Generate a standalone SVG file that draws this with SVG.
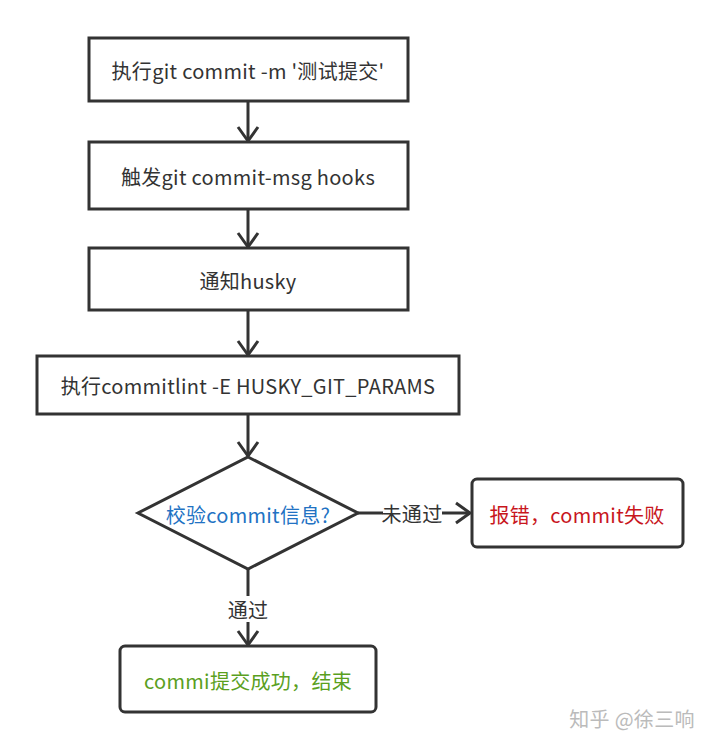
<svg xmlns="http://www.w3.org/2000/svg" width="720" height="749" viewBox="0 0 720 749">
<defs>
<style>
.box{fill:#fff;stroke:#333;stroke-width:3}
.t{font-family:"Noto Sans CJK SC","Noto Sans",sans-serif;font-size:20px;letter-spacing:0.3px;fill:#333;text-anchor:middle;dominant-baseline:central}
.ln{stroke:#333;stroke-width:3;fill:none}
</style>
<marker id="ah" viewBox="0 0 24 24" refX="20" refY="12" markerWidth="24" markerHeight="24" markerUnits="userSpaceOnUse" orient="auto">
<path d="M6,2 L20,12 L6,22" fill="none" stroke="#333" stroke-width="3"/>
</marker>
</defs>
<rect width="720" height="749" fill="#fff"/>
<g id="connectors">
<line class="ln" x1="248" y1="101" x2="248" y2="141" marker-end="url(#ah)"/>
<line class="ln" x1="248" y1="209" x2="248" y2="247" marker-end="url(#ah)"/>
<line class="ln" x1="248" y1="310" x2="248" y2="355" marker-end="url(#ah)"/>
<line class="ln" x1="248" y1="414" x2="248" y2="456" marker-end="url(#ah)"/>
<line class="ln" x1="358" y1="513" x2="383" y2="513"/>
<line class="ln" x1="442" y1="513" x2="470" y2="513" marker-end="url(#ah)"/>
<text class="t" x="412" y="513">未通过</text>
<line class="ln" x1="248" y1="569" x2="248" y2="596"/>
<line class="ln" x1="248" y1="622" x2="248" y2="645" marker-end="url(#ah)"/>
<text class="t" x="248" y="609">通过</text>
</g>
<g id="n1"><rect class="box" x="89" y="38" width="319" height="63"/><text class="t" x="248" y="70">执行git commit -m '测试提交'</text></g>
<g id="n2"><rect class="box" x="89" y="142" width="319" height="67"/><text class="t" x="248" y="176">触发git commit-msg hooks</text></g>
<g id="n3"><rect class="box" x="89" y="248" width="319" height="62"/><text class="t" x="248" y="280">通知husky</text></g>
<g id="n4"><rect class="box" x="37" y="356" width="422" height="58"/><text class="t" x="248" y="385">执行commitlint -E HUSKY_GIT_PARAMS</text></g>
<g id="n5"><polygon class="box" points="248,457 358,513 248,569 138,513"/><text class="t" x="248" y="514" style="fill:#2272c3">校验commit信息?</text></g>
<g id="n6"><rect class="box" x="472" y="479" width="211" height="68" rx="5"/><text class="t" x="577" y="514" style="fill:#c8161d">报错，commit失败</text></g>
<g id="n7"><rect class="box" x="120" y="646" width="256" height="66" rx="5"/><text class="t" x="248" y="680" style="fill:#5aa01e">commi提交成功，结束</text></g>
<text class="t" x="632" y="718" style="fill:#bbb;font-size:20px">知乎 @徐三响</text>
</svg>
